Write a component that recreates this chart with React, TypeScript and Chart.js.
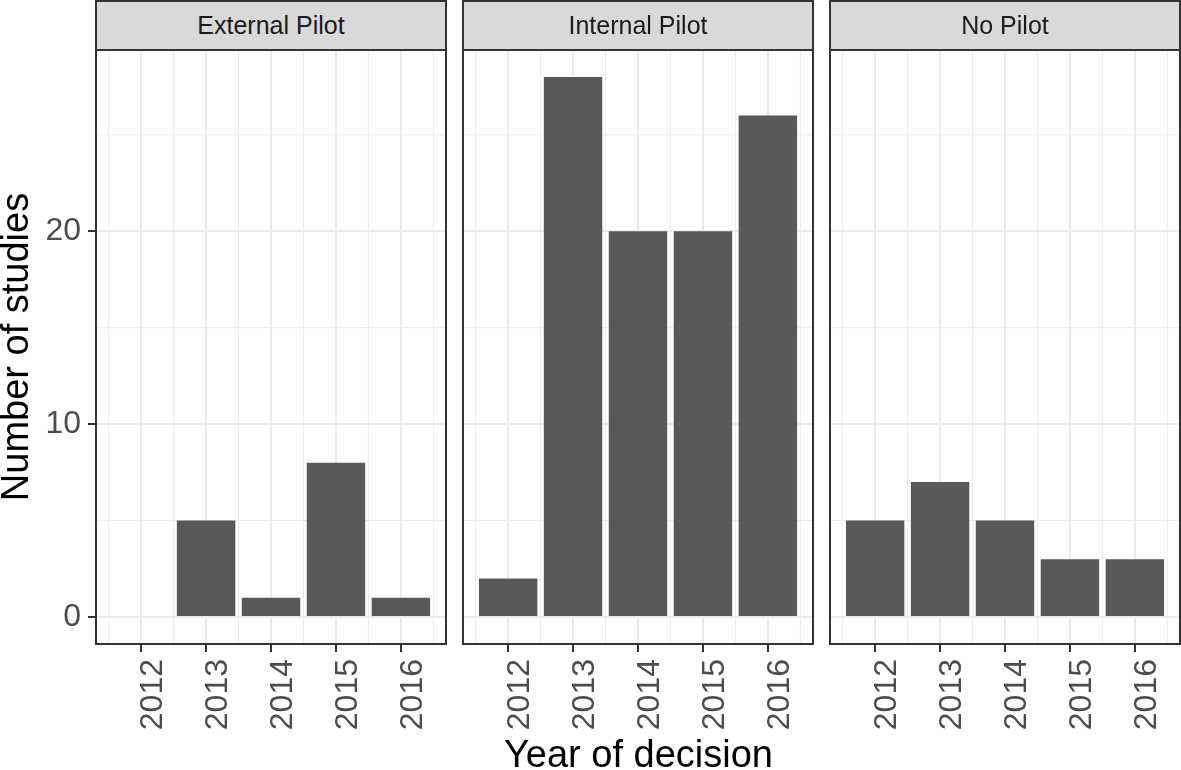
import React, { useEffect, useRef } from "react";
import { Chart, registerables } from "chart.js";

Chart.register(...registerables);

// ---- Data ----
const years = [2012, 2013, 2014, 2015, 2016];
const panelNames = ["External Pilot", "Internal Pilot", "No Pilot"];
const externalPilot: (number | null)[] = [null, 5, 1, 8, 1];
const internalPilot: (number | null)[] = [2, 28, 20, 20, 26];
const noPilot: (number | null)[] = [5, 7, 5, 3, 3];
const yTicks = [0, 10, 20];
const yMinorTicks = [5, 15, 25];
const xMinorTicks = [2011.5, 2012.5, 2013.5, 2014.5, 2015.5, 2016.5];
const xTitle = "Year of decision";
const yTitle = "Number of studies";

const seriesList = [externalPilot, internalPilot, noPilot];

// ---- Scale limits (ggplot-style 5% expansion) ----
const X_MIN = 2011.305;
const X_MAX = 2016.695;
const Y_MIN = -1.4;
const Y_MAX = 29.4;

// ---- Layout ----
const W = 1181;
const H = 770;
const PANEL_LEFTS = [96, 463, 830];
const PANEL_W = 350;
const PANEL_TOP = 50;
const PANEL_BOTTOM = 644;
const Y_AXIS_W = 96;
const FONT = "'Liberation Sans', Arial, Helvetica, sans-serif";
const TITLE_SIZE = 38;

const minorGridPlugin = {
  id: "minorGrid",
  beforeDatasetsDraw(chart: any) {
    const { ctx, chartArea } = chart;
    const xs = chart.scales.x;
    const ys = chart.scales.y;
    ctx.save();
    ctx.beginPath();
    ctx.rect(chartArea.left, chartArea.top, chartArea.right - chartArea.left, chartArea.bottom - chartArea.top);
    ctx.clip();
    ctx.strokeStyle = "#EBEBEB";
    ctx.lineWidth = 1;
    for (const v of xMinorTicks) {
      const px = xs.getPixelForValue(v);
      ctx.beginPath();
      ctx.moveTo(px, chartArea.top);
      ctx.lineTo(px, chartArea.bottom);
      ctx.stroke();
    }
    for (const v of yMinorTicks) {
      const py = ys.getPixelForValue(v);
      ctx.beginPath();
      ctx.moveTo(chartArea.left, py);
      ctx.lineTo(chartArea.right, py);
      ctx.stroke();
    }
    ctx.restore();
  },
};

const panelBorderPlugin = {
  id: "panelBorder",
  afterDatasetsDraw(chart: any) {
    const { ctx, chartArea } = chart;
    ctx.save();
    ctx.strokeStyle = "#333333";
    ctx.lineWidth = 2;
    ctx.strokeRect(chartArea.left, chartArea.top, chartArea.right - chartArea.left, chartArea.bottom - chartArea.top);
    ctx.restore();
  },
};

function Panel({ index }: { index: number }) {
  const ref = useRef<HTMLCanvasElement | null>(null);
  useEffect(() => {
    if (!ref.current) return;
    const left = PANEL_LEFTS[index];
    const series = seriesList[index];
    const chart = new Chart(ref.current, {
      type: "bar",
      data: {
        datasets: [
          {
            data: years.map((yr, j) => ({ x: yr, y: series[j] })) as any,
            backgroundColor: "#595959",
            borderWidth: 0,
            barPercentage: 0.9,
            categoryPercentage: 1,
          },
        ],
      },
      options: {
        responsive: false,
        animation: false,
        events: [],
        layout: {
          padding: {
            left: left - Y_AXIS_W,
            right: W - left - PANEL_W,
            top: PANEL_TOP,
            bottom: 0,
          },
        },
        plugins: {
          legend: { display: false },
          tooltip: { enabled: false },
        },
        scales: {
          x: {
            type: "linear",
            min: X_MIN,
            max: X_MAX,
            offset: false,
            afterBuildTicks: (s: any) => {
              s.ticks = years.map((v) => ({ value: v }));
            },
            afterFit: (s: any) => {
              s.height = H - PANEL_BOTTOM;
              s.paddingLeft = 0;
              s.paddingRight = 0;
            },
            grid: {
              color: "#EBEBEB",
              lineWidth: 2,
              offset: false,
              drawTicks: true,
              tickLength: 8,
              tickColor: "#333333",
              tickWidth: 2,
            },
            border: { display: false },
            ticks: {
              autoSkip: false,
              minRotation: 90,
              maxRotation: 90,
              padding: 7,
              labelOffset: 12.5,
              color: "#4D4D4D",
              font: { family: FONT, size: 32 },
              callback: (v: any) => String(v),
            },
          },
          y: {
            type: "linear",
            min: Y_MIN,
            max: Y_MAX,
            afterBuildTicks: (s: any) => {
              s.ticks = yTicks.map((v) => ({ value: v }));
            },
            afterFit: (s: any) => {
              s.width = Y_AXIS_W;
              s.paddingTop = 0;
              s.paddingBottom = 0;
            },
            grid: {
              color: "#EBEBEB",
              lineWidth: 2,
              drawTicks: true,
              tickLength: 8,
              tickColor: index === 0 ? "#333333" : "rgba(0,0,0,0)",
              tickWidth: 2,
            },
            border: { display: false },
            ticks: {
              display: index === 0,
              padding: 7,
              color: "#4D4D4D",
              font: { family: FONT, size: 32 },
              callback: (v: any) => String(v),
            },
          },
        },
      } as any,
      plugins: [minorGridPlugin, panelBorderPlugin],
    });
    return () => chart.destroy();
  }, [index]);
  return (
    <canvas
      ref={ref}
      width={W}
      height={H}
      style={{ position: "absolute", left: 0, top: 0, width: W, height: H }}
    />
  );
}

export default function App() {
  return (
    <div
      style={{
        position: "absolute",
        left: 0,
        top: 0,
        width: W,
        height: H,
        overflow: "hidden",
        background: "#FFFFFF",
        fontFamily: FONT,
      }}
    >
      {panelNames.map((_, i) => (
        <Panel key={"p" + i} index={i} />
      ))}
      {panelNames.map((name, i) => (
        <div
          key={"s" + i}
          style={{
            position: "absolute",
            left: PANEL_LEFTS[i] - 1,
            top: 0,
            width: PANEL_W + 2,
            height: 51,
            boxSizing: "border-box",
            border: "2px solid #333333",
            background: "#D9D9D9",
            color: "#1A1A1A",
            fontSize: 25,
            lineHeight: 1,
            display: "flex",
            alignItems: "center",
            justifyContent: "center",
            whiteSpace: "nowrap",
          }}
        >
          {name}
        </div>
      ))}
      <div
        style={{
          position: "absolute",
          left: 638.5 - 300,
          top: 735,
          width: 600,
          height: TITLE_SIZE,
          fontSize: TITLE_SIZE,
          lineHeight: 1,
          textAlign: "center",
          color: "#000000",
          whiteSpace: "nowrap",
        }}
      >
        {xTitle}
      </div>
      <div
        style={{
          position: "absolute",
          left: 15 - 250,
          top: 347 - TITLE_SIZE / 2,
          width: 500,
          height: TITLE_SIZE,
          fontSize: TITLE_SIZE,
          lineHeight: 1,
          textAlign: "center",
          color: "#000000",
          whiteSpace: "nowrap",
          transform: "rotate(-90deg)",
          transformOrigin: "50% 50%",
        }}
      >
        {yTitle}
      </div>
    </div>
  );
}
